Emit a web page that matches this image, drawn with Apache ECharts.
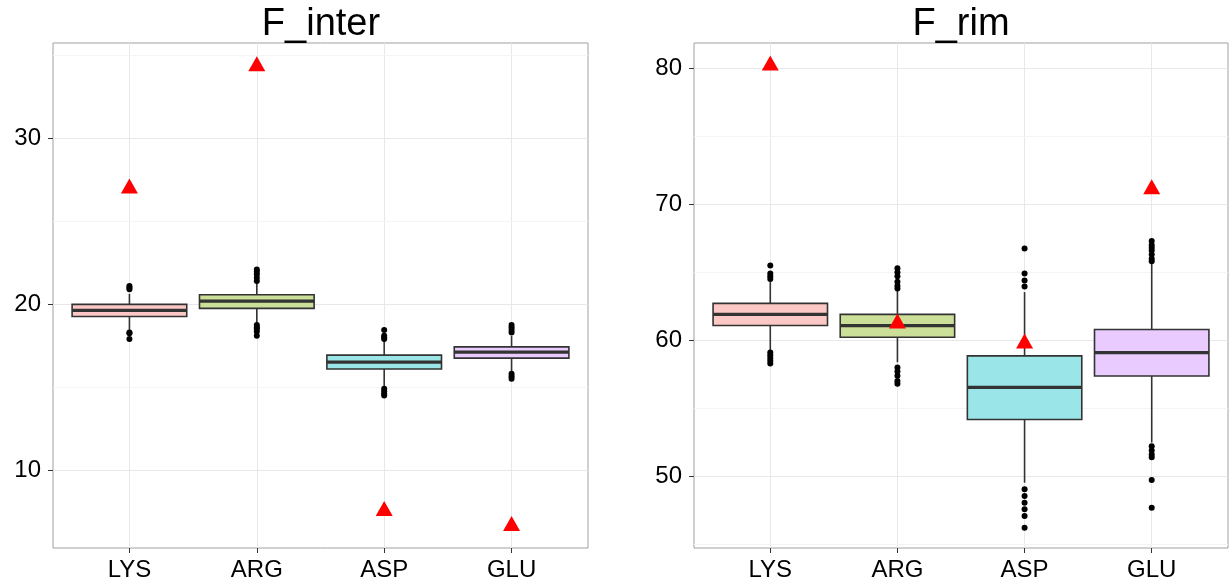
<!DOCTYPE html>
<html>
<head>
<meta charset="utf-8">
<script src="https://cdn.jsdelivr.net/npm/echarts@6/dist/echarts.min.js"></script>
<style>
html,body{margin:0;padding:0;background:#fff;}
#chart{width:1230px;height:584px;}
</style>
</head>
<body>
<div id="chart"></div>
<script>
// ---------- data ----------
const categories = ['LYS', 'ARG', 'ASP', 'GLU'];
const boxColors = ['#FCC8C5', '#CBDF99', '#99E5E7', '#E9CBFF'];

// [lower whisker, Q1, median, Q3, upper whisker]
const interBoxes = [
  [18.45, 19.26, 19.63, 19.99, 20.63],
  [18.82, 19.75, 20.19, 20.57, 21.28],
  [15.05, 16.09, 16.51, 16.93, 17.78],
  [15.95, 16.75, 17.11, 17.43, 18.08]
];
const interOutliers = [
  [21.1, 21.0, 20.9, 18.3, 18.25, 17.9],
  [22.1, 21.95, 21.8, 21.6, 21.4, 18.75, 18.6, 18.5, 18.35, 18.1],
  [18.45, 18.1, 18.0, 17.9, 14.9, 14.75, 14.6, 14.5],
  [18.75, 18.6, 18.45, 18.3, 15.8, 15.65, 15.5]
];
const interObserved = [26.97, 34.35, 7.53, 6.63];
const interTicks = [10, 20, 30];
const interMinor = [15, 25, 35];
const interRange = [5.3, 35.75];

const rimBoxes = [
  [59.24, 61.08, 61.9, 62.71, 64.28],
  [58.38, 60.22, 61.08, 61.9, 63.67],
  [49.53, 54.17, 56.53, 58.85, 63.54],
  [52.48, 57.37, 59.09, 60.79, 65.75]
];
const rimOutliers = [
  [65.5, 64.9, 64.7, 64.5, 59.1, 58.9, 58.7, 58.5, 58.3],
  [65.3, 65.0, 64.7, 64.3, 64.0, 63.8, 58.0, 57.7, 57.4, 57.0, 56.8],
  [66.74, 64.9, 64.4, 63.96, 49.04, 48.55, 48.05, 47.57, 47.08, 46.21],
  [67.3, 67.0, 66.8, 66.6, 66.3, 66.0, 65.8, 52.2, 51.9, 51.6, 51.4, 49.73, 47.69]
];
const rimObserved = [80.19, 61.23, 59.76, 71.1];
const rimTicks = [50, 60, 70, 80];
const rimMinor = [45, 55, 65, 75];
const rimRange = [44.73, 81.85];

const panelTitles = ['F_inter', 'F_rim'];

// ---------- chart ----------
const FONT = '"Liberation Sans", Arial, Helvetica, sans-serif';
const catPos = categories.map((c, i) => i + 1);
const HALF_BOX = 0.45;

function xAxisFor(gi) {
  return {
    type: 'value', gridIndex: gi, min: 0.4, max: 4.6,
    axisLine: { show: false },
    axisTick: { show: true, customValues: catPos, length: 5, lineStyle: { color: '#333', width: 1 } },
    axisLabel: { customValues: catPos, formatter: v => categories[Math.round(v) - 1] || '',
      color: '#000', fontSize: 24, fontFamily: FONT, margin: 10 },
    splitLine: { show: true, lineStyle: { color: '#E8E8E8', width: 1 } }
  };
}
function yAxisFor(gi, range, ticks) {
  return {
    type: 'value', gridIndex: gi, min: range[0], max: range[1],
    axisLine: { show: false },
    axisTick: { show: true, customValues: ticks, length: 5, lineStyle: { color: '#333', width: 1 } },
    axisLabel: { customValues: ticks, color: '#000', fontSize: 24, fontFamily: FONT, margin: 12 },
    splitLine: { show: true, lineStyle: { color: '#E8E8E8', width: 1 } }
  };
}

function renderBox(params, api) {
  const x = api.value(0);
  const vmin = api.value(1), q1 = api.value(2), med = api.value(3), q3 = api.value(4), vmax = api.value(5);
  const top = api.coord([x - HALF_BOX, q3]);
  const bot = api.coord([x + HALF_BOX, q1]);
  const wTop = api.coord([x, vmax]);
  const wBot = api.coord([x, vmin]);
  const mL = api.coord([x - HALF_BOX, med]);
  const mR = api.coord([x + HALF_BOX, med]);
  const stroke = '#333333';
  return {
    type: 'group',
    children: [
      { type: 'line', shape: { x1: wTop[0], y1: wTop[1], x2: wTop[0], y2: top[1] },
        style: { stroke: stroke, lineWidth: 1.6 } },
      { type: 'line', shape: { x1: wBot[0], y1: bot[1], x2: wBot[0], y2: wBot[1] },
        style: { stroke: stroke, lineWidth: 1.6 } },
      { type: 'rect', shape: { x: top[0], y: top[1], width: bot[0] - top[0], height: bot[1] - top[1] },
        style: { fill: boxColors[params.dataIndex], stroke: stroke, lineWidth: 1.6 } },
      { type: 'line', shape: { x1: mL[0], y1: mL[1], x2: mR[0], y2: mR[1] },
        style: { stroke: stroke, lineWidth: 3.2 } }
    ]
  };
}

function panelSeries(gi, boxes, outliers, observed, minor) {
  const boxData = boxes.map((b, i) => [catPos[i]].concat(b));
  const outData = [];
  outliers.forEach((arr, i) => arr.forEach(v => outData.push([catPos[i], v])));
  const obsData = observed.map((v, i) => [catPos[i], v]);
  return [
    {
      type: 'scatter', xAxisIndex: gi, yAxisIndex: gi, data: [], silent: true,
      markLine: {
        silent: true, symbol: 'none', label: { show: false }, z: 0, zlevel: 0,
        lineStyle: { color: '#F4F4F4', width: 1, type: 'solid' },
        data: minor.map(v => ({ yAxis: v }))
      },
      z: 0
    },
    {
      type: 'custom', xAxisIndex: gi, yAxisIndex: gi, data: boxData, z: 2,
      encode: { x: 0, y: [1, 2, 3, 4, 5] },
      renderItem: renderBox
    },
    {
      type: 'scatter', xAxisIndex: gi, yAxisIndex: gi, data: outData,
      symbol: 'circle', symbolSize: 6, itemStyle: { color: '#000', opacity: 1 }, z: 4
    },
    {
      type: 'scatter', xAxisIndex: gi, yAxisIndex: gi, data: obsData,
      symbol: 'triangle', symbolSize: [17, 15], symbolOffset: [0, '-17%'],
      itemStyle: { color: '#FF0000', opacity: 1 }, z: 5
    }
  ];
}

const chart = echarts.init(document.getElementById('chart'), null, { renderer: 'canvas' });
chart.setOption({
  animation: false,
  backgroundColor: '#fff',
  title: [
    { text: panelTitles[0], left: 316, top: 1, textAlign: 'center',
      textStyle: { fontSize: 38, fontWeight: 'normal', color: '#000', fontFamily: FONT } },
    { text: panelTitles[1], left: 956, top: 1, textAlign: 'center',
      textStyle: { fontSize: 38, fontWeight: 'normal', color: '#000', fontFamily: FONT } }
  ],
  grid: [
    { left: 53, right: 642, top: 43, bottom: 36, show: true, borderColor: '#A0A0A0', borderWidth: 1, backgroundColor: '#fff' },
    { left: 694, right: 2, top: 43, bottom: 36, show: true, borderColor: '#A0A0A0', borderWidth: 1, backgroundColor: '#fff' }
  ],
  xAxis: [xAxisFor(0), xAxisFor(1)],
  yAxis: [yAxisFor(0, interRange, interTicks), yAxisFor(1, rimRange, rimTicks)],
  series: panelSeries(0, interBoxes, interOutliers, interObserved, interMinor)
    .concat(panelSeries(1, rimBoxes, rimOutliers, rimObserved, rimMinor))
});
</script>
</body>
</html>
